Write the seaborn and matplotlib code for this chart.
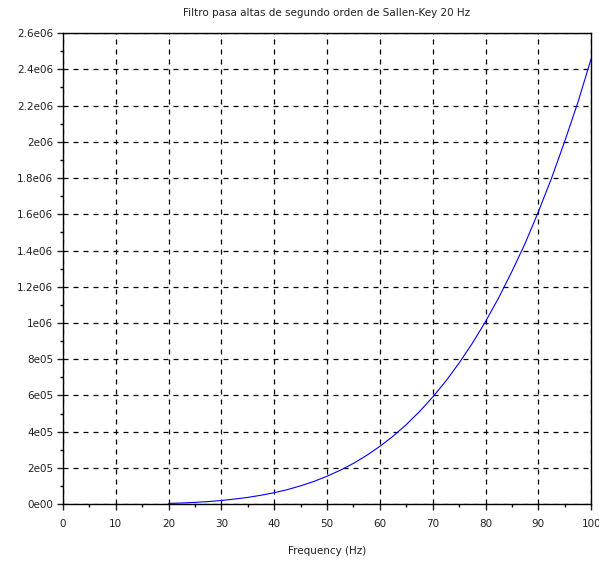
import matplotlib
import matplotlib.pyplot as plt
import matplotlib.ticker as mticker
import seaborn as sns
import pandas as pd

matplotlib.use('Agg')

# values
freq = [20, 22.5, 25, 27.5, 30, 32.5, 35, 37.5, 40, 42.5, 45, 47.5, 50, 52.5, 55,
        57.5, 60, 62.5, 65, 67.5, 70, 72.5, 75, 77.5, 80, 82.5, 85, 87.5, 90,
        92.5, 95, 97.5, 100]
gain = [3.9e3, 6.2e3, 9.6e3, 1.4e4, 2.0e4, 2.8e4, 3.7e4, 4.9e4, 6.3e4, 8.0e4,
        1.01e5, 1.25e5, 1.54e5, 1.87e5, 2.25e5, 2.69e5, 3.19e5, 3.75e5, 4.39e5,
        5.11e5, 5.91e5, 6.8e5, 7.79e5, 8.88e5, 1.008e6, 1.14e6, 1.285e6, 1.44e6,
        1.614e6, 1.80e6, 2.004e6, 2.22e6, 2.46e6]

x_ticks = [0, 10, 20, 30, 40, 50, 60, 70, 80, 90, 100]
y_ticks = [0, 2e5, 4e5, 6e5, 8e5, 1e6, 1.2e6, 1.4e6, 1.6e6, 1.8e6, 2e6, 2.2e6, 2.4e6, 2.6e6]
y_labels = ["0e00", "2e05", "4e05", "6e05", "8e05", "1e06", "1.2e06", "1.4e06",
            "1.6e06", "1.8e06", "2e06", "2.2e06", "2.4e06", "2.6e06"]

sns.set_style("white")
plt.rcParams['font.family'] = ['DejaVu Sans']

fig = plt.figure(figsize=(5.99, 5.62), dpi=100)
ax = fig.add_axes([0.105, 0.103, 0.882, 0.838])

df = pd.DataFrame({"Frequency": freq, "Gain": gain})
sns.lineplot(data=df, x="Frequency", y="Gain", color="#0000ff", linewidth=0.8, ax=ax)

ax.set_xlim(0, 100)
ax.set_ylim(0, 2.6e6)
ax.set_xticks(x_ticks)
ax.set_yticks(y_ticks)
ax.set_yticklabels(y_labels)
ax.xaxis.set_minor_locator(mticker.MultipleLocator(5))
ax.yaxis.set_minor_locator(mticker.MultipleLocator(1e5))

ax.grid(True, which="major", linestyle=(0, (4, 4)), color="black", linewidth=0.9)
ax.set_axisbelow(True)
for s in ax.spines.values():
    s.set_color("black")
    s.set_linewidth(1.0)

ax.tick_params(which="both", bottom=True, left=True, top=False, right=False)
ax.tick_params(which="major", direction="out", length=4, width=1, labelsize=7.5,
               colors="#222222", pad=3)
ax.tick_params(which="minor", direction="out", length=2, width=1, colors="black")
ax.tick_params(axis="x", which="major", pad=7)

ax.set_xlabel("Frequency (Hz)", fontsize=7.5, labelpad=12, color="#222222")
ax.set_ylabel("")
ax.set_title("Filtro pasa altas de segundo orden de Sallen-Key 20 Hz", fontsize=7.5,
             pad=12, color="#222222")

fig.savefig("out.png", dpi=100)
